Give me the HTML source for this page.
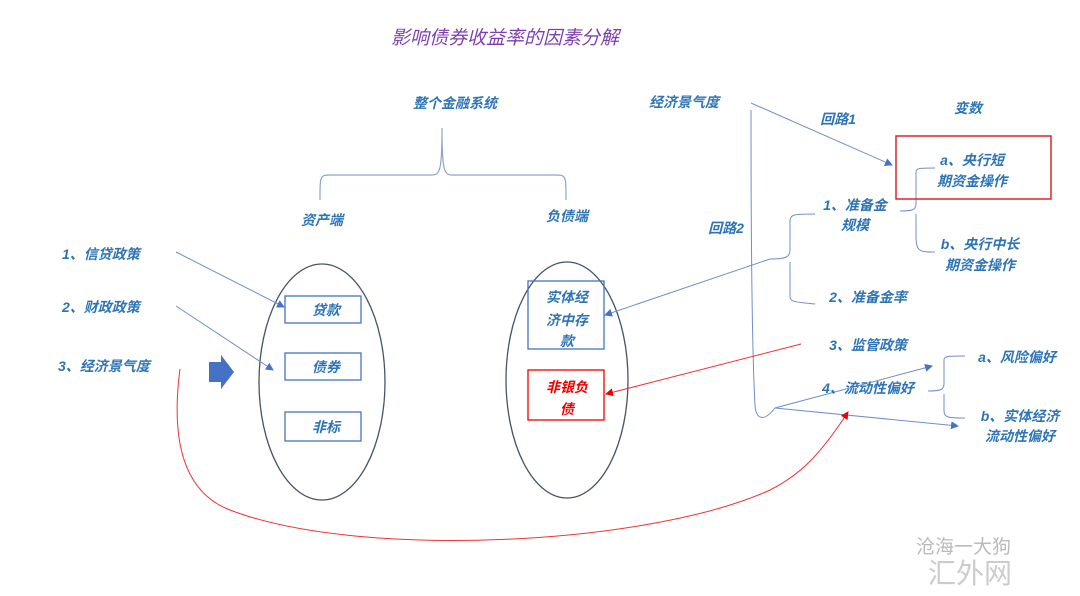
<!DOCTYPE html>
<html><head><meta charset="utf-8"><style>
body{margin:0;width:1080px;height:591px;background:#fff;overflow:hidden}
svg text{font-family:"Liberation Sans","Noto Sans CJK SC",sans-serif;font-style:italic;font-weight:bold;font-size:14px;fill:#2e74b5}
</style></head><body>
<svg width="1080" height="591" viewBox="0 0 1080 591">
<defs>
<marker id="ab" markerWidth="8" markerHeight="8" refX="7" refY="4" orient="auto" markerUnits="userSpaceOnUse"><path d="M0,0 L8,4 L0,8z" fill="#4472c4"/></marker>
<marker id="ar" markerWidth="8" markerHeight="8" refX="7" refY="4" orient="auto" markerUnits="userSpaceOnUse"><path d="M0,0 L8,4 L0,8z" fill="#e00"/></marker>
</defs>
<text x="505" y="44" text-anchor="middle" style="font-size:19px;fill:#7d3fae;font-weight:normal">影响债券收益率的因素分解</text>
<text x="455" y="108" text-anchor="middle">整个金融系统</text>
<path d="M320,200 C320,176 320,175 330,175 L432,175 C440,175 442,170 442,128 C442,170 444,175 452,175 L556,175 C566,175 566,176 566,200" fill="none" stroke="#8ea4c8" stroke-width="1.2"/>
<text x="322" y="225" text-anchor="middle">资产端</text>
<text x="567" y="221" text-anchor="middle">负债端</text>
<ellipse cx="322" cy="382" rx="63" ry="118" fill="none" stroke="#44546a" stroke-width="1.3"/>
<ellipse cx="567" cy="380" rx="61" ry="118" fill="none" stroke="#44546a" stroke-width="1.3"/>
<g fill="none" stroke="#4472c4" stroke-width="1.3">
<rect x="285" y="296" width="76" height="27"/><rect x="285" y="353" width="76" height="27"/><rect x="285" y="412" width="76" height="29"/>
<rect x="528" y="281" width="76" height="68"/></g>
<rect x="528" y="370" width="76" height="50" fill="none" stroke="#e00" stroke-width="1.3"/>
<text x="326" y="315" text-anchor="middle">贷款</text>
<text x="326" y="372" text-anchor="middle">债券</text>
<text x="326" y="432" text-anchor="middle">非标</text>
<text x="567" y="302" text-anchor="middle">实体经</text>
<text x="567" y="325" text-anchor="middle">济中存</text>
<text x="567" y="346" text-anchor="middle">款</text>
<text x="567" y="392" text-anchor="middle" style="fill:#e00">非银负</text>
<text x="567" y="414" text-anchor="middle" style="fill:#e00">债</text>
<text x="62" y="259">1、信贷政策</text>
<text x="62" y="312">2、财政政策</text>
<text x="58" y="371">3、经济景气度</text>
<path d="M209,362 L221,362 L221,355 L234,372 L221,389 L221,382 L209,382z" fill="#4472c4"/>
<g stroke="#6f8fc8" stroke-width="1" fill="none">
<line x1="176" y1="252" x2="284" y2="307" marker-end="url(#ab)"/>
<line x1="176" y1="306" x2="273" y2="370" marker-end="url(#ab)"/>
<line x1="751" y1="103" x2="892" y2="165" marker-end="url(#ab)"/>
<path d="M751,110 C751,250 752,350 755,405 C756,420 764,422 775,408 L932,366" marker-end="url(#ab)"/>
<path d="M775,408 L958,426" marker-end="url(#ab)"/>
<line x1="770" y1="259" x2="605" y2="315" marker-end="url(#ab)"/>
<path d="M770,259 C786,259 790,257 790,250 L790,222 C790,214 794,214 815,214 M790,262 L790,296 C790,302 794,302 815,304"/>
<path d="M900,211 C912,211 916,210 916,204 L916,172 C916,168 920,168 935,168 M916,214 L916,236 C916,252 920,252 935,252"/>
<path d="M928,391 C940,391 944,390 944,384 L944,360 C944,356 948,356 965,356 M944,394 L944,410 C944,418 948,418 965,418"/>
</g>
<path d="M180,369 C172,430 178,490 230,510 C360,560 650,545 770,490 C800,475 820,455 848,412" fill="none" stroke="#e33" stroke-width="1" marker-end="url(#ar)"/>
<line x1="801" y1="344" x2="606" y2="394" stroke="#e33" stroke-width="1" marker-end="url(#ar)"/>
<rect x="896" y="136" width="155" height="63" fill="none" stroke="#d9262e" stroke-width="1.5"/>
<text x="684" y="107" text-anchor="middle">经济景气度</text>
<text x="838" y="124" text-anchor="middle">回路1</text>
<text x="968" y="113" text-anchor="middle">变数</text>
<text x="972" y="165" text-anchor="middle">a、央行短</text>
<text x="972" y="186" text-anchor="middle">期资金操作</text>
<text x="855" y="210" text-anchor="middle">1、准备金</text>
<text x="855" y="230" text-anchor="middle">规模</text>
<text x="726" y="233" text-anchor="middle">回路2</text>
<text x="980" y="249" text-anchor="middle">b、央行中长</text>
<text x="980" y="270" text-anchor="middle">期资金操作</text>
<text x="868" y="302" text-anchor="middle">2、准备金率</text>
<text x="868" y="350" text-anchor="middle">3、监管政策</text>
<text x="868" y="393" text-anchor="middle">4、流动性偏好</text>
<text x="1017" y="362" text-anchor="middle">a、风险偏好</text>
<text x="1020" y="421" text-anchor="middle">b、实体经济</text>
<text x="1020" y="441" text-anchor="middle">流动性偏好</text>
<text x="916" y="553" style="font-style:normal;font-weight:normal;font-size:19px;fill:#bbb">沧海一大狗</text>
<text x="928" y="583" style="font-style:normal;font-weight:normal;font-size:28px;fill:#ccc">汇外网</text>
</svg>
</body></html>
